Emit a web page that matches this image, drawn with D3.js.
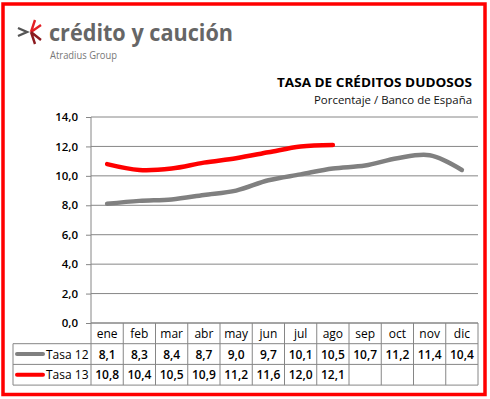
<!DOCTYPE html>
<html>
<head>
<meta charset="utf-8">
<script src="https://cdn.jsdelivr.net/npm/d3@7"></script>
<style>
  body { margin: 0; background: #fff; }
  text { font-family: "Open Sans", "DejaVu Sans", sans-serif; }
</style>
</head>
<body>
<div id="canvas"></div>
<script>
// data
const months = ["ene", "feb", "mar", "abr", "may", "jun", "jul", "ago", "sep", "oct", "nov", "dic"];
const tasa12 = [8.1, 8.3, 8.4, 8.7, 9.0, 9.7, 10.1, 10.5, 10.7, 11.2, 11.4, 10.4];
const tasa13 = [10.8, 10.4, 10.5, 10.9, 11.2, 11.6, 12.0, 12.1];
const yTicks = [0, 2, 4, 6, 8, 10, 12, 14];

const series = [
    { name: "Tasa 12", values: tasa12, color: "#808080" },
    { name: "Tasa 13", values: tasa13, color: "#ff0000" }
];

const width = 490;
const height = 399;
const plotLeft = 91, plotRight = 478, plotTop = 117, plotBottom = 323;
const rowH = 20.7;

const es = d3.formatLocale({ decimal: ",", thousands: ".", grouping: [3], currency: ["", "€"] });
const fmt = es.format(".1f");

const svg = d3.select("#canvas").append("svg")
    .attr("width", width)
    .attr("height", height);

// outer red frame
svg.append("rect")
    .attr("x", 3).attr("y", 4)
    .attr("width", 482).attr("height", 390.5)
    .attr("fill", "none")
    .attr("stroke", "#ff0000")
    .attr("stroke-width", 3.5);

// logo
const logo = svg.append("g");
logo.append("path").attr("d", "M18,28 L27,32 L18,36")
    .attr("fill", "none").attr("stroke", "#555").attr("stroke-width", 2.4);
logo.append("path").attr("d", "M31,32 L35,20 M31,32 L41,25")
    .attr("stroke", "#e31e24").attr("stroke-width", 2.4);
logo.append("path").attr("d", "M31,32 L35,44 M31,32 L41,40")
    .attr("stroke", "#8b1a1f").attr("stroke-width", 2.4);
logo.append("text")
    .attr("x", 49).attr("y", 41)
    .attr("font-size", 22.5).attr("font-weight", 700)
    .attr("fill", "#666")
    .attr("textLength", 184).attr("lengthAdjust", "spacingAndGlyphs")
    .text("crédito y caución");
logo.append("text")
    .attr("x", 50).attr("y", 58.5)
    .attr("font-size", 10)
    .attr("fill", "#777")
    .attr("textLength", 67).attr("lengthAdjust", "spacingAndGlyphs")
    .text("Atradius Group");

// titles
svg.append("text")
    .attr("x", 472).attr("y", 87)
    .attr("text-anchor", "end")
    .attr("font-size", 13).attr("font-weight", 700)
    .attr("fill", "#000")
    .attr("textLength", 195).attr("lengthAdjust", "spacingAndGlyphs")
    .text("TASA DE CRÉDITOS DUDOSOS");
svg.append("text")
    .attr("x", 472).attr("y", 104)
    .attr("text-anchor", "end")
    .attr("font-size", 11)
    .attr("fill", "#111")
    .attr("textLength", 158).attr("lengthAdjust", "spacingAndGlyphs")
    .text("Porcentaje / Banco de España");

const x = d3.scaleBand().domain(months).range([plotLeft, plotRight]);
const y = d3.scaleLinear().domain([0, 14]).range([plotBottom, plotTop]);

// gridlines
svg.append("g").selectAll("line")
    .data(yTicks)
    .join("line")
    .attr("x1", plotLeft).attr("x2", plotRight)
    .attr("y1", d => y(d)).attr("y2", d => y(d))
    .attr("stroke", "#868686");

// y axis
const yAxis = svg.append("g")
    .attr("transform", `translate(${plotLeft},0)`)
    .call(d3.axisLeft(y).tickValues(yTicks).tickSize(5).tickPadding(8).tickFormat(fmt));
yAxis.select(".domain").attr("stroke", "#868686")
    .attr("d", `M0,${plotTop}V${plotBottom + 3 * rowH}`);
yAxis.selectAll(".tick line").attr("stroke", "#868686");
yAxis.selectAll(".tick text")
    .attr("font-family", "'Open Sans', sans-serif")
    .attr("font-size", 11.5).attr("font-weight", 600)
    .attr("fill", "#000");

// lines
const line = d3.line()
    .x((d, i) => x(months[i]) + x.bandwidth() / 2)
    .y(d => y(d))
    .curve(d3.curveCatmullRom.alpha(0.5));

svg.append("g").selectAll("path")
    .data(series)
    .join("path")
    .attr("d", d => line(d.values))
    .attr("fill", "none")
    .attr("stroke", d => d.color)
    .attr("stroke-width", 4.5)
    .attr("stroke-linecap", "round")
    .attr("stroke-linejoin", "round");

// data table
const table = svg.append("g");
const tableLeft = 13;
const gridCol = "#868686";

// horizontal rules
table.append("line")
    .attr("x1", plotLeft).attr("x2", plotRight)
    .attr("y1", plotBottom).attr("y2", plotBottom).attr("stroke", gridCol);
[1, 2, 3].forEach(r => {
    table.append("line")
        .attr("x1", tableLeft).attr("x2", plotRight)
        .attr("y1", plotBottom + r * rowH).attr("y2", plotBottom + r * rowH)
        .attr("stroke", gridCol);
});
// vertical rules
months.forEach(m => {
    table.append("line")
        .attr("x1", x(m) + x.bandwidth()).attr("x2", x(m) + x.bandwidth())
        .attr("y1", plotBottom).attr("y2", plotBottom + 3 * rowH)
        .attr("stroke", gridCol);
});
table.append("line")
    .attr("x1", tableLeft).attr("x2", tableLeft)
    .attr("y1", plotBottom + rowH).attr("y2", plotBottom + 3 * rowH)
    .attr("stroke", gridCol);

// month labels
table.selectAll(".month")
    .data(months)
    .join("text")
    .attr("class", "month")
    .attr("x", d => x(d) + x.bandwidth() / 2)
    .attr("y", plotBottom + rowH / 2 + 4.5)
    .attr("text-anchor", "middle")
    .attr("font-size", 12)
    .attr("fill", "#000")
    .text(d => d);

series.forEach((s, r) => {
    const cy = plotBottom + (r + 1) * rowH + rowH / 2;
    table.append("line")
        .attr("x1", 17).attr("x2", 43)
        .attr("y1", cy).attr("y2", cy)
        .attr("stroke", s.color).attr("stroke-width", 4)
        .attr("stroke-linecap", "round");
    table.append("text")
        .attr("x", 46).attr("y", cy + 4.5)
        .attr("font-size", 12)
        .attr("fill", "#000")
        .text(s.name);
    table.selectAll(".v" + r)
        .data(s.values)
        .join("text")
        .attr("x", (d, i) => x(months[i]) + x.bandwidth() / 2)
        .attr("y", cy + 4.5)
        .attr("text-anchor", "middle")
        .attr("font-size", 12).attr("font-weight", 600)
        .attr("fill", "#000")
        .text(d => fmt(d));
});
</script>
</body>
</html>
